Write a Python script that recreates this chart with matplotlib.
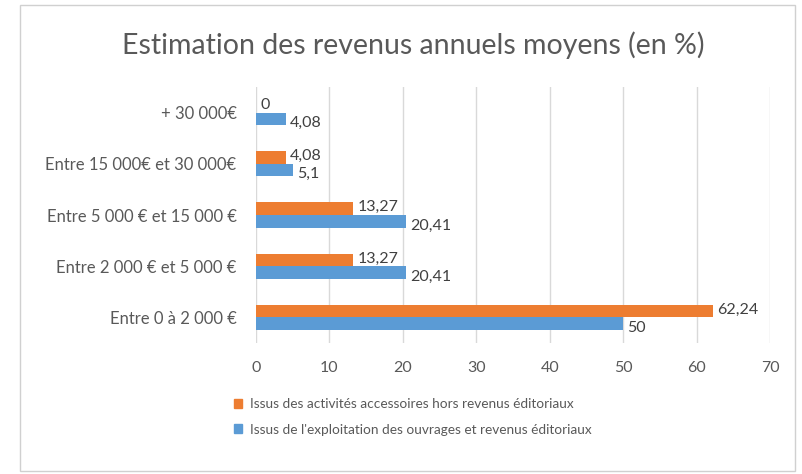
import matplotlib
matplotlib.use("Agg")
import matplotlib.pyplot as plt
from matplotlib.patches import Rectangle, Patch
import numpy as np

plt.rcParams['font.family'] = ['Lato', 'DejaVu Sans']

categories = ["Entre 0 à 2 000 €", "Entre 2 000 € et 5 000 €", "Entre 5 000 € et 15 000 €",
              "Entre 15 000€ et 30 000€", "+ 30 000€"]
exploitation = [50, 20.41, 20.41, 5.1, 4.08]
accessoires = [62.24, 13.27, 13.27, 4.08, 0]
series_names = ["Issus des activités accessoires hors revenus éditoriaux",
                "Issus de l'exploitation des ouvrages et revenus éditoriaux"]
xticks = [0, 10, 20, 30, 40, 50, 60, 70]

blue = "#5B9BD5"
orange = "#ED7D31"
txt = "#595959"

fig = plt.figure(figsize=(8.03, 4.74), dpi=100)
fig.patches.append(Rectangle((20/803, 3/474), 775/803, 466/474, transform=fig.transFigure,
                             fill=False, edgecolor="#d0d0d0", linewidth=1))

ax = fig.add_axes([256/803, 1-343/474, 514/803, 256/474])
y = np.arange(len(categories))
h = 0.245
ax.barh(y - h/2, exploitation, height=h, color=blue)
ax.barh(y + h/2, accessoires, height=h, color=orange)

def fmt(v):
    return ("%g" % v).replace(".", ",")

for yi, v in zip(y, exploitation):
    ax.annotate(fmt(v), (v, yi - h/2), xytext=(3, -3), textcoords="offset points",
                va="center", ha="left", fontsize=11.5, color="#404040")
for yi, v in zip(y, accessoires):
    ax.annotate(fmt(v), (v, yi + h/2), xytext=(3, 1), textcoords="offset points",
                va="center", ha="left", fontsize=11.5, color="#404040")

ax.set_xlim(0, 70)
ax.set_ylim(-0.5, len(categories) - 0.5)
ax.set_xticks(xticks)
ax.set_xticklabels([str(t) for t in xticks])
ax.set_yticks(y)
ax.set_yticklabels(categories)
ax.tick_params(axis='both', length=0, labelcolor=txt)
ax.tick_params(axis='x', pad=13, labelsize=11.5)
ax.tick_params(axis='y', pad=14, labelsize=12)
ax.grid(axis='x', color="#d9d9d9", linewidth=1)
ax.set_axisbelow(True)
for s in ax.spines.values():
    s.set_visible(False)

fig.text(413/803, 1-45/474, "Estimation des revenus annuels moyens (en %)", ha="center", va="center",
         fontsize=20.5, color=txt)

handles = [Patch(color=orange), Patch(color=blue)]
fig.legend(handles, series_names, loc="upper left", bbox_to_anchor=(234/803, 1-398/474),
           frameon=False, fontsize=9.8, labelcolor=txt, handlelength=0.6, handleheight=0.6,
           handletextpad=0.6, labelspacing=1.0, borderpad=0, borderaxespad=0)

fig.savefig("out.png", dpi=100)
